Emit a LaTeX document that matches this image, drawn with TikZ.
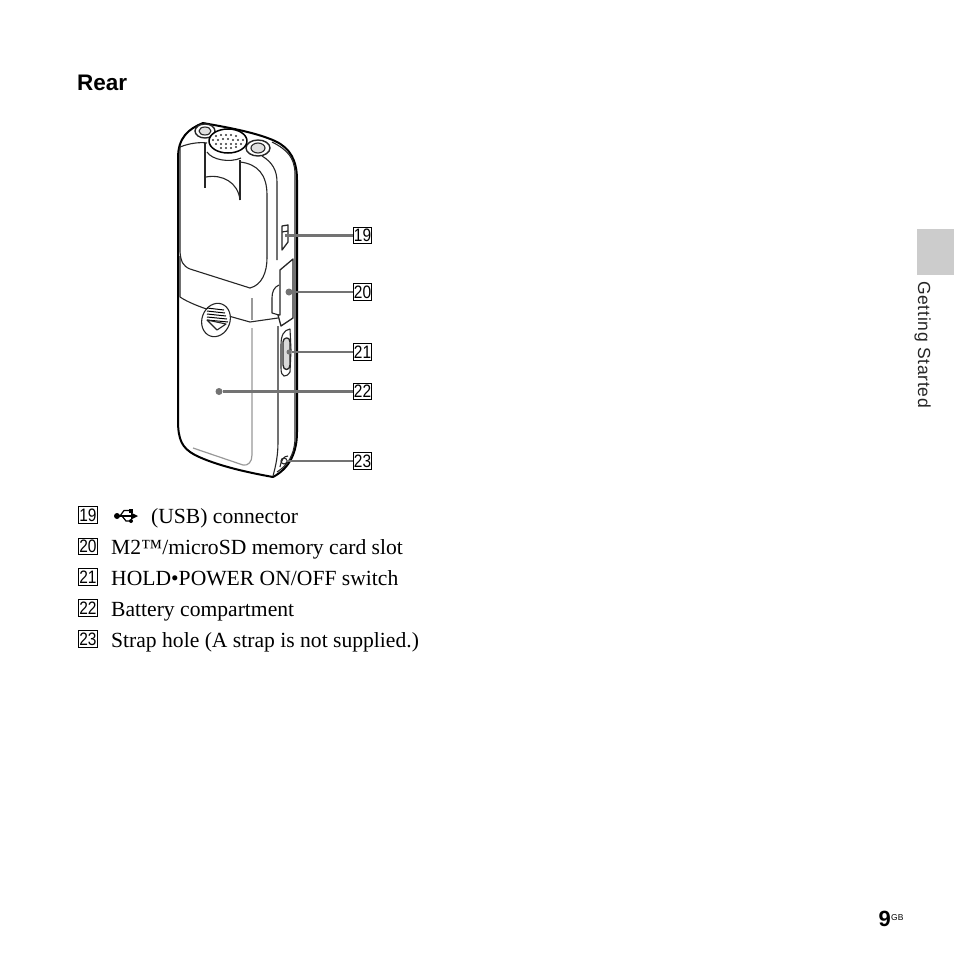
\documentclass[tikz,border=0pt]{standalone}
\usepackage{fontspec}
\usepackage{graphicx}
\setmainfont{Liberation Serif}
\newfontfamily\arial{Liberation Sans}
\newfontfamily\arialsp[LetterSpace=4]{Liberation Sans}
\tikzset{
  numbox/.style={draw=black,line width=1.3pt,minimum width=18.5pt,minimum height=16.5pt,inner sep=0pt,font=\arial\fontsize{18}{18}\selectfont},
  item/.style={anchor=base west,inner sep=0pt,font=\fontsize{21.6}{24}\selectfont},
  leader/.style={draw=black!55,line width=2.6pt},
  thin leader/.style={draw=black!55,line width=1.6pt},
  dot/.style={circle,fill=black!55,minimum size=7pt,inner sep=0pt},
  body/.style={draw=black,line width=2pt,line join=round},
  part/.style={draw=black!85,line width=1.1pt,line join=round}
}
\newcommand{\nb}[1]{\scalebox{0.86}[1]{#1}}
\begin{document}
\begin{tikzpicture}[x=1pt,y=-1pt]
\useasboundingbox (0,0) rectangle (954,954);
\fill[white] (0,0) rectangle (954,954);
\node[anchor=base west,inner sep=0pt,font=\arial\bfseries\fontsize{22.5}{24}\selectfont] (rear) at (77,90) {Rear};
% device outline
\draw[body] (178,158) .. controls (178,138) and (188,129) .. (203,123)
  .. controls (225,127) and (255,132) .. (275,141)
  .. controls (290,148) and (297,160) .. (297,180)
  -- (297,432) .. controls (297,452) and (290,468) .. (273,477)
  .. controls (245,472) and (215,465) .. (195,455)
  .. controls (182,448) and (178,440) .. (178,420) -- cycle;
% inner right edges
\draw[part] (295,172) .. controls (294,158) and (288,150) .. (272,142);
\draw[part] (295,172) -- (295,440) .. controls (294,455) and (288,465) .. (277,472);
\draw[part] (262,156) .. controls (272,162) and (277,170) .. (277,182) -- (277,260);
\draw[part] (278,326) -- (278,442) .. controls (278,455) and (276,465) .. (273,476);
% panel
\draw[part] (180,147) .. controls (190,143) and (200,142) .. (207,143);
\draw[part] (240,162) .. controls (258,164) and (267,175) .. (267,195) -- (267,258);
\draw[part] (180,147) -- (180,252) .. controls (181,262) and (183,266) .. (190,269) -- (250,288) .. controls (262,285) and (267,272) .. (267,258);
\draw[part] (180,256) -- (180,297) .. controls (195,307) and (225,315) .. (250,322) -- (278,318);
% clip under mic
\draw[part] (205,143) -- (205,188);
\draw[part] (240,160) -- (240,200);
\draw[part] (206,177) .. controls (222,174) and (238,182) .. (240,200);
\draw[part] (207,152) .. controls (212,160) and (230,163) .. (241,158);
% jacks and mic
\draw[part,line width=1.4pt,fill=white] (205,131) ellipse [x radius=10,y radius=7];
\draw[part,fill=black!12] (205,131) ellipse [x radius=6,y radius=4];
\draw[part,line width=1.4pt,fill=white] (258,148) ellipse [x radius=12,y radius=8];
\draw[part,fill=black!12] (258,148) ellipse [x radius=7,y radius=5];
\draw[body,line width=1.5pt,fill=white] (228,141) ellipse [x radius=19,y radius=12];
\foreach \xx/\yy in {216/136,221/135,226/135,231/135,236/136,213/140,218/140,223/139,228/139,233/140,238/140,243/140,216/144,221/144,226/144,231/144,236/144,241/144,221/148,226/148,231/148,236/147}
  \fill[black!80] (\xx,\yy) circle [radius=1.1];
% USB port
\draw[part,line width=1.3pt] (282,226) -- (288,225) -- (288,242) -- (282,250) -- cycle;
\draw[part] (282,232) -- (288,231);
% card slot
\draw[part,line width=1.3pt] (280,270) -- (293,259) -- (293,318) -- (281,326) -- (278,315) -- (280,315) -- cycle;
\draw[part] (279,285) .. controls (274,287) and (272,292) .. (272,298) -- (272,313) -- (279,315);
% switch
\draw[part] (281,345) .. controls (281,335) and (284,330) .. (290,329) -- (291,350) -- (290,372) .. controls (286,378) and (281,378) .. (281,368) -- cycle;
\draw[part,line width=1.3pt,fill=black!15] (283,342) .. controls (283,337) and (290,336) .. (290,342) -- (290,365) .. controls (290,371) and (283,371) .. (283,365) -- cycle;
% cover seam (grey)
\draw[black!40,line width=1.2pt] (252,328) -- (252,455) .. controls (252,462) and (248,466) .. (243,465) -- (193,448);
\draw[black!40,line width=1.2pt] (252,298) -- (252,320);
% latch
\draw[part,fill=white,rotate around={-20:(216,320)}] (216,320) ellipse [x radius=14,y radius=17];
\foreach \yy/\xa/\xb in {308/207/224,311/207/225,314/207/226,317/207/227,320/207/228}
  \draw[black,line width=1pt] (\xa,\yy) -- (\xb,\yy+2);
\draw[part] (207,320) -- (226,324) -- (217,330) -- cycle;
% strap hole
\draw[part] (284,461) circle [radius=3];
\draw[part] (280,467) .. controls (281,460) and (284,456) .. (288,456);
% callout boxes
\node[numbox] (c19) at (362.5,235.5) {\nb{19}};
\node[numbox] (c20) at (362.5,292) {\nb{20}};
\node[numbox] (c21) at (362.5,352) {\nb{21}};
\node[numbox] (c22) at (362.5,391.5) {\nb{22}};
\node[numbox] (c23) at (362.5,461) {\nb{23}};
\coordinate (p19) at (285,235.5);
\coordinate (p23) at (286,461);
\node[dot,minimum size=5pt] (p21) at (289,352) {};
\node[dot] (p20) at (289,292) {};
\node[dot] (p22) at (219,391.5) {};
\draw[leader] (p19) -- (c19);
\draw[leader] (p20) -- (c20);
\draw[leader] (p21) -- (c21);
\draw[leader] (p22) -- (c22);
\draw[thin leader] (p23) -- (c23);
% list
\node[numbox] (l19) at (88,515) {\nb{19}};
\node[numbox] (l20) at (88,546.5) {\nb{20}};
\node[numbox] (l21) at (88,577) {\nb{21}};
\node[numbox] (l22) at (88,608) {\nb{22}};
\node[numbox] (l23) at (88,639) {\nb{23}};
% USB symbol
\fill (117,516) circle [radius=3];
\draw[line width=1.3pt] (117,516) -- (133,516);
\fill (138,516) -- (131,512.5) -- (131,519.5) -- cycle;
\draw[line width=1.2pt] (120,516) -- (124,510.5) -- (130,510.5);
\fill (129,508.5) rectangle (133,512.5);
\draw[line width=1.2pt] (122,516) -- (126,521) -- (130,521);
\fill (131,521) circle [radius=2];
\node[item] (t19) at (151,523) {(USB) connector};
\node[item] (t20) at (111,554) {M2™/microSD memory card slot};
\node[item] (t21) at (111,585) {HOLD•POWER ON/OFF switch};
\node[item] (t22) at (111,616) {Battery compartment};
\node[item] (t23) at (111,647) {Strap hole (A strap is not supplied.)};
% tab
\fill[black!20] (917,229) rectangle (954,275);
\node[anchor=base west,inner sep=0pt,rotate=-90,font=\arialsp\fontsize{17.5}{18}\selectfont,text=black!85] (tab) at (918,281) {Getting Started};
% page number
\node[anchor=base west,inner sep=0pt,font=\arial\bfseries\fontsize{22}{22}\selectfont] (pg) at (878.5,926) {9};
\node[anchor=base west,inner sep=0pt,font=\arial\fontsize{8.5}{9}\selectfont] (gb) at (891,920) {GB};
\end{tikzpicture}
\end{document}
